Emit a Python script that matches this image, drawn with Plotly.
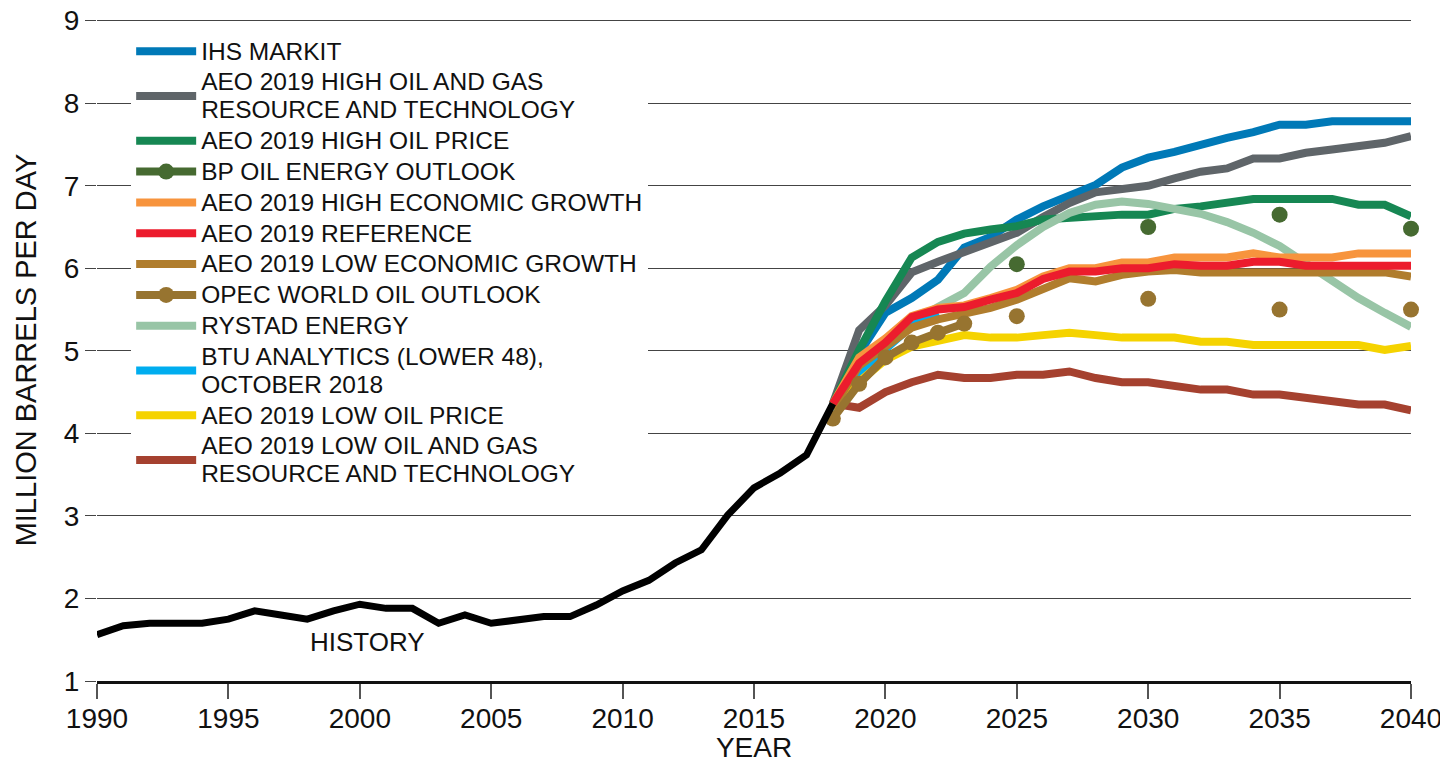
import plotly.graph_objects as go

FONT = "Liberation Sans, Arial, sans-serif"

hist_years = list(range(1990, 2019))
hist_vals = [1.56, 1.67, 1.70, 1.70, 1.70, 1.75, 1.85, 1.80, 1.75, 1.85,
             1.93, 1.88, 1.88, 1.70, 1.80, 1.70, 1.74, 1.78, 1.78, 1.92,
             2.09, 2.22, 2.43, 2.59, 3.01, 3.34, 3.52, 3.74, 4.36]

proj_years = list(range(2018, 2041))

ihs = [4.36, 4.97, 5.46, 5.64, 5.86, 6.25, 6.38, 6.59, 6.75, 6.89, 7.01, 7.22,
       7.34, 7.41, 7.50, 7.58, 7.65, 7.74, 7.74, 7.78, 7.78, 7.78, 7.78]
high_res = [4.36, 5.25, 5.55, 5.95, 6.08, 6.19, 6.31, 6.43, 6.62, 6.79, 6.92, 6.95,
            7.00, 7.09, 7.17, 7.21, 7.33, 7.33, 7.40, 7.44, 7.48, 7.52, 7.60]
high_price = [4.36, 5.01, 5.60, 6.13, 6.32, 6.42, 6.47, 6.51, 6.59, 6.61, 6.65, 6.65,
              6.65, 6.72, 6.75, 6.79, 6.84, 6.84, 6.84, 6.84, 6.77, 6.77, 6.63]
bp_vals = [None] * 7 + [6.05] + [None] * 4 + [6.50] + [None] * 4 + [6.65] + [None] * 4 + [6.48]
high_econ = [4.36, 4.92, 5.15, 5.42, 5.52, 5.55, 5.64, 5.74, 5.90, 6.00, 6.00, 6.07,
             6.07, 6.13, 6.13, 6.13, 6.18, 6.13, 6.13, 6.13, 6.18, 6.18, 6.18]
reference = [4.36, 4.85, 5.10, 5.41, 5.50, 5.53, 5.62, 5.70, 5.87, 5.96, 5.96, 6.00,
             6.00, 6.05, 6.03, 6.03, 6.08, 6.08, 6.03, 6.03, 6.03, 6.03, 6.03]
low_econ = [4.30, 4.82, 5.05, 5.28, 5.38, 5.44, 5.52, 5.62, 5.74, 5.88, 5.84, 5.92,
            5.96, 5.98, 5.95, 5.95, 5.95, 5.95, 5.95, 5.95, 5.95, 5.95, 5.90]
opec = [4.18, 4.60, 4.92, 5.10, 5.22, 5.33, None, 5.42, None, None, None, None,
        5.63, None, None, None, None, 5.50, None, None, None, None, 5.50]
rystad = [4.20, 4.68, 5.02, 5.35, 5.53, 5.70, 6.02, 6.28, 6.50, 6.67, 6.77, 6.81,
          6.78, 6.72, 6.66, 6.56, 6.43, 6.27, 6.06, 5.87, 5.64, 5.46, 5.29]
btu_years = [2018, 2019, 2020, 2021, 2022]
btu = [4.36, 4.75, 5.02, 5.30, 5.47]
low_price = [4.36, 4.62, 4.89, 5.05, 5.13, 5.19, 5.16, 5.16, 5.19, 5.22, 5.19, 5.16,
             5.16, 5.16, 5.11, 5.11, 5.07, 5.07, 5.07, 5.07, 5.07, 5.01, 5.06]
low_res = [4.36, 4.31, 4.50, 4.62, 4.71, 4.67, 4.67, 4.71, 4.71, 4.75, 4.67, 4.62,
           4.62, 4.58, 4.53, 4.53, 4.47, 4.47, 4.43, 4.38, 4.35, 4.35, 4.28]

LW = 8
fig = go.Figure()


def label(*lines):
    return "<br>".join("<span style='font-size:24.5px'>%s</span>" % ln for ln in lines)


def add_line(name, x, y, color, rank, mode="lines", msize=None, width=LW):
    kw = dict(x=x, y=y, name=name, mode=mode, legendrank=rank,
              line=dict(color=color, width=width), connectgaps=False,
              cliponaxis=False if "markers" in mode else True)
    if msize:
        kw["marker"] = dict(color=color, size=msize)
    fig.add_trace(go.Scatter(**kw))

# draw order (bottom -> top)
add_line(label("IHS MARKIT"), proj_years, ihs, "#0079B7", 1)
add_line(label("AEO 2019 HIGH OIL AND GAS", "RESOURCE AND TECHNOLOGY"), proj_years, high_res, "#5F6569", 2)
add_line(label("AEO 2019 HIGH OIL PRICE"), proj_years, high_price, "#168753", 3)
add_line(label("RYSTAD ENERGY"), proj_years, rystad, "#98C5A6", 9)
add_line(label("BTU ANALYTICS (LOWER 48),", "OCTOBER 2018"), btu_years, btu, "#00ADEF", 10)
add_line(label("AEO 2019 LOW OIL PRICE"), proj_years, low_price, "#F5D300", 11)
add_line(label("AEO 2019 LOW OIL AND GAS", "RESOURCE AND TECHNOLOGY"), proj_years, low_res, "#A5412F", 12)
add_line(label("AEO 2019 HIGH ECONOMIC GROWTH"), proj_years, high_econ, "#F7943D", 5)
add_line(label("AEO 2019 LOW ECONOMIC GROWTH"), proj_years, low_econ, "#B07D2D", 7)
add_line(label("AEO 2019 REFERENCE"), proj_years, reference, "#EC1C2D", 6)
add_line(label("OPEC WORLD OIL OUTLOOK"), proj_years, opec, "#977430", 8, mode="lines+markers", msize=16)
add_line(label("BP OIL ENERGY OUTLOOK"), proj_years, bp_vals, "#466A31", 4, mode="lines+markers", msize=16)

fig.add_trace(go.Scatter(x=hist_years, y=hist_vals, mode="lines", showlegend=False,
                         line=dict(color="#000000", width=7), name="HISTORY"))

fig.add_annotation(x=2000.3, y=1.47, text="HISTORY", showarrow=False,
                   font=dict(family=FONT, size=26, color="#111111"))

fig.update_layout(
    width=1440, height=755,
    margin=dict(l=89, r=37, t=11, b=82, autoexpand=False),
    paper_bgcolor="white", plot_bgcolor="white",
    font=dict(family=FONT, color="#111111"),
    legend=dict(x=0.026, y=0.982, xanchor="left", yanchor="top",
                bgcolor="white", font=dict(family=FONT, size=21.4, color="#111111"),
                itemwidth=60, tracegroupgap=0),
    xaxis=dict(range=[1990, 2040], tickvals=list(range(1990, 2041, 5)), automargin=False,
               showgrid=False, zeroline=False, showline=True, linecolor="#111111",
               linewidth=3, ticks="outside", ticklen=15, tickwidth=1.5, tickcolor="#555555",
               ticklabelstandoff=-5, ticklabeloverflow="allow",
               tickfont=dict(family=FONT, size=28, color="#111111"),
               title=dict(text="YEAR", font=dict(family=FONT, size=28, color="#111111"), standoff=23)),
    yaxis=dict(range=[1, 9.02], tickvals=list(range(1, 10)), showgrid=True, automargin=False,
               gridcolor="#444444", gridwidth=1, zeroline=False, showline=False,
               ticks="outside", ticklen=11, tickwidth=1, tickcolor="#444444",
               ticklabeloverflow="allow",
               tickfont=dict(family=FONT, size=28, color="#111111"),
               title=dict(text="MILLION BARRELS PER DAY", font=dict(family=FONT, size=29, color="#111111"), standoff=18)),
)

fig.write_html("out.html")
